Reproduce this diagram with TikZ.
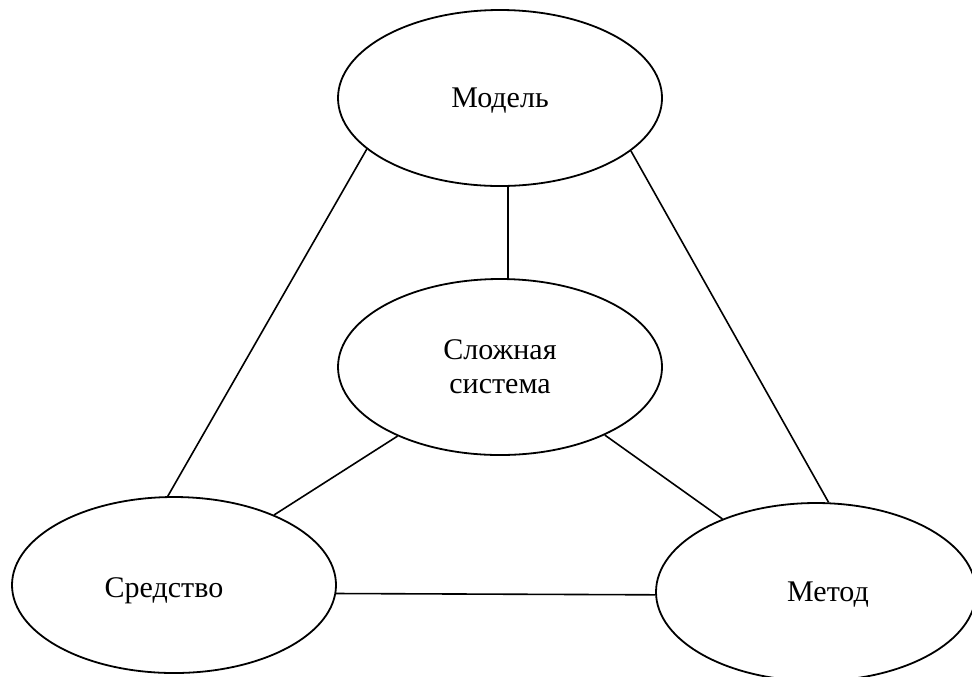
\documentclass[tikz,border=0pt]{standalone}
\usepackage{fontspec}
\setmainfont{Liberation Serif}
\usetikzlibrary{shapes.geometric}
\begin{document}
\begin{tikzpicture}[x=0.5pt,y=-0.5pt,
  elbox/.style={ellipse,draw,line width=0.9pt,inner sep=0pt,
    minimum width=162pt,minimum height=88pt,font=\fontsize{15}{17}\selectfont,align=center},
  txt/.style={font=\fontsize{15}{17}\selectfont,align=center,inner sep=0pt},
  link/.style={line width=0.8pt}]
\useasboundingbox (0,0) rectangle (972,676);
\clip (0,0) rectangle (972,676);
\node[elbox,label={[txt,yshift=-1.5pt]center:Модель}] (model) at (500,98) {};
\node[elbox] (sys) at (500,367) {Сложная\\система};
\node[elbox,label={[txt,xshift=-5pt,yshift=-3pt]center:Средство}] (tool) at (174,585) {};
\node[elbox,minimum width=160pt,minimum height=89pt,label={[txt,xshift=6pt,yshift=-1.5pt]center:Метод}] (method) at (816,592) {};
\draw[link] (model.201.6) -- (tool.94.5);
\draw[link] (model.338.6) -- (method.82);
\draw[link] (model.275) -- (sys.85);
\draw[link] (sys.214.8) -- (tool.35.5);
\draw[link] (sys.327.8) -- (method.142.3);
\draw[link] (tool.357.5) -- (method.181);
\end{tikzpicture}
\end{document}
